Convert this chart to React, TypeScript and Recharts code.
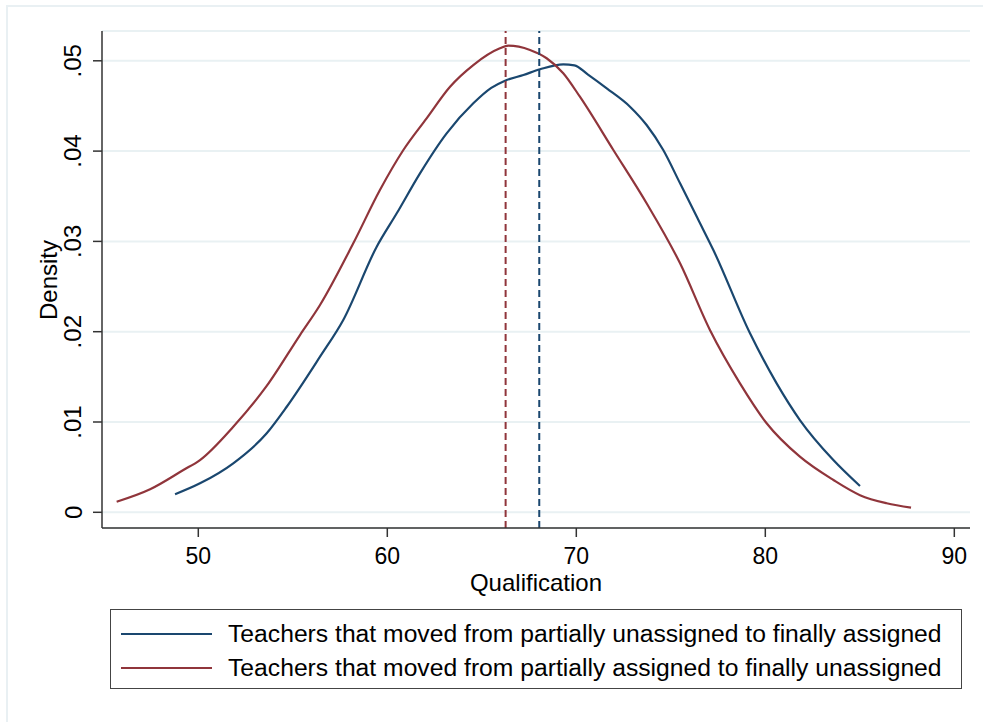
import { LineChart, Line, XAxis, YAxis, CartesianGrid, ReferenceLine } from 'recharts';

const FONT = '"Liberation Sans", Arial, sans-serif';
const NAVY = '#1a476f';
const MAROON = '#90353b';

// kernel density, teachers moved partially unassigned -> finally assigned
const assignedX = [48.77, 50.09, 51.85, 53.62, 54.68, 56.44, 57.67, 59.44, 60.5, 61.73, 63.14, 64.55, 65.5, 66.23, 67.2, 68.08, 69.31, 69.9, 70.6, 71.61, 72.84, 73.72, 74.6, 75.49, 76.46, 77.25, 79.19, 80.6, 81.83, 83.6, 85.01];
const assignedY = [0.002, 0.00321, 0.00543, 0.00875, 0.01169, 0.01723, 0.0213, 0.02941, 0.03311, 0.03754, 0.04197, 0.04529, 0.047, 0.0478, 0.04843, 0.04906, 0.04961, 0.0495, 0.0485, 0.04695, 0.04492, 0.04289, 0.04012, 0.03643, 0.03237, 0.02905, 0.01982, 0.01428, 0.01022, 0.00579, 0.00291];

// kernel density, teachers moved partially assigned -> finally unassigned
const unassignedX = [45.68, 47.45, 49.21, 50.09, 51.85, 53.62, 55.38, 56.44, 58.2, 59.61, 60.85, 62.08, 63.32, 64.55, 65.96, 66.4, 67.55, 68.43, 69.31, 70.19, 71.96, 73.72, 75.49, 77.07, 78.66, 80.07, 81.83, 83.6, 85.01, 86.42, 87.71];
const unassignedY = [0.00117, 0.00255, 0.00468, 0.00579, 0.00948, 0.01399, 0.01963, 0.02296, 0.02979, 0.03569, 0.04012, 0.04363, 0.04713, 0.04953, 0.05138, 0.05167, 0.0512, 0.05028, 0.04862, 0.04602, 0.04012, 0.03422, 0.02757, 0.02019, 0.01428, 0.00986, 0.00616, 0.00358, 0.0019, 0.001, 0.00051];

const meanAssigned = 68.04;
const meanUnassigned = 66.26;

const xTicks = [50, 60, 70, 80, 90];
const yTicks = [0, 0.01, 0.02, 0.03, 0.04, 0.05];

const legendLabels = [
  'Teachers that moved from partially unassigned to finally assigned',
  'Teachers that moved from partially assigned to finally unassigned',
];

const assigned = assignedX.map((x, i) => ({ x, y: assignedY[i] }));
const unassigned = unassignedX.map((x, i) => ({ x, y: unassignedY[i] }));

const fmtY = (v: number) => (v === 0 ? '0' : String(v).replace(/^0/, ''));

function YTick({ y, payload }: any) {
  return (
    <text
      x={73}
      y={y}
      transform={`rotate(-90, 73, ${y})`}
      textAnchor="middle"
      dominantBaseline="central"
      fontSize={24}
      fontFamily={FONT}
      fill="#000"
    >
      {fmtY(payload.value)}
    </text>
  );
}

function XTick({ x, payload }: any) {
  return (
    <text x={x} y={556} textAnchor="middle" dominantBaseline="central" fontSize={23} fontFamily={FONT} fill="#000">
      {payload.value}
    </text>
  );
}

export default function App() {
  return (
    <div style={{ position: 'absolute', left: 0, top: 0, width: 983, height: 722, background: '#fff', overflow: 'hidden' }}>
      <div
        style={{
          position: 'absolute',
          left: 6,
          top: 5,
          width: 990,
          height: 730,
          border: '2px solid #e9f0f3',
        }}
      />
      <LineChart width={983} height={722} margin={{ top: 31, right: 13, left: 0, bottom: 124 }}>
        <CartesianGrid horizontal vertical={false} stroke="#e9f1f3" strokeWidth={2} />
        <XAxis
          type="number"
          dataKey="x"
          domain={[44.905, 90.83]}
          ticks={xTicks}
          allowDataOverflow
          height={70}
          tickSize={9}
          stroke="#333"
          tickLine={{ stroke: '#333', strokeWidth: 1.5 }}
          axisLine={{ stroke: '#333', strokeWidth: 1.5 }}
          tick={<XTick />}
          label={{
            content: () => (
              <text x={536} y={582} textAnchor="middle" dominantBaseline="central" fontSize={24} fontFamily={FONT} fill="#000">
                Qualification
              </text>
            ),
          }}
        />
        <YAxis
          type="number"
          dataKey="y"
          domain={[-0.001739, 0.0533]}
          ticks={yTicks}
          allowDataOverflow
          width={102}
          tickSize={9}
          stroke="#333"
          tickLine={{ stroke: '#333', strokeWidth: 1.5 }}
          axisLine={{ stroke: '#333', strokeWidth: 1.5 }}
          tick={<YTick />}
          label={{
            content: () => (
              <text
                x={48}
                y={280}
                transform="rotate(-90, 48, 280)"
                textAnchor="middle"
                dominantBaseline="central"
                fontSize={24}
                fontFamily={FONT}
                fill="#000"
              >
                Density
              </text>
            ),
          }}
        />
        <Line data={assigned} dataKey="y" type="monotone" stroke={NAVY} strokeWidth={2.2} dot={false} isAnimationActive={false} />
        <Line data={unassigned} dataKey="y" type="monotone" stroke={MAROON} strokeWidth={2.2} dot={false} isAnimationActive={false} />
        <ReferenceLine x={meanUnassigned} stroke={MAROON} strokeWidth={2} strokeDasharray="7 4" />
        <ReferenceLine x={meanAssigned} stroke={NAVY} strokeWidth={2} strokeDasharray="7 4" />
      </LineChart>
      <div
        style={{
          position: 'absolute',
          left: 110,
          top: 609,
          width: 850,
          height: 78,
          border: '1.5px solid #444',
          fontFamily: FONT,
        }}
      >
        {legendLabels.map((label, i) => (
          <div
            key={label}
            style={{ position: 'absolute', left: 0, top: i === 0 ? 8 : 42, height: 32, display: 'flex', alignItems: 'center' }}
          >
            <div style={{ marginLeft: 10, width: 91, height: 2.5, background: i === 0 ? NAVY : MAROON }} />
            <span style={{ marginLeft: 16, fontSize: 24.7, color: '#000', whiteSpace: 'nowrap' }}>{label}</span>
          </div>
        ))}
      </div>
    </div>
  );
}
